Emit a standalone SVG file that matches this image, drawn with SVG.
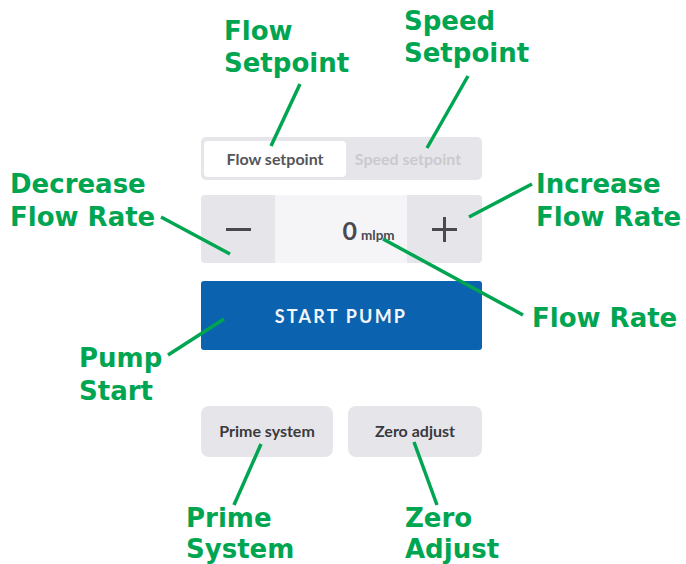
<svg xmlns="http://www.w3.org/2000/svg" width="686" height="564" viewBox="0 0 686 564">
<style>
.lbl{font-family:"DejaVu Sans",Verdana,sans-serif;font-weight:bold;font-size:26px;fill:#00a551}
.ln{stroke:#00a551;stroke-width:3.5;fill:none}
.ui{font-family:Lato,"Open Sans",sans-serif;font-weight:bold}
.gray{fill:#e6e6ea}
</style>
<rect width="686" height="564" fill="#ffffff"/>
<g id="seg">
<rect x="201" y="137" width="281" height="43" rx="5" class="gray"/>
<rect x="204" y="141" width="142" height="36" rx="4" fill="#ffffff"/>
<text x="275" y="165" text-anchor="middle" class="ui" font-size="16" fill="#555559">Flow setpoint</text>
<text x="408" y="165" text-anchor="middle" class="ui" font-size="16" fill="#cacace">Speed setpoint</text>
</g>
<g id="stepper">
<rect x="201" y="195" width="281" height="68" rx="4" class="gray"/>
<rect x="275" y="195" width="132" height="68" fill="#f5f5f8"/>
<rect x="226" y="228" width="25" height="3" fill="#4a4a4e"/>
<rect x="432" y="228" width="25" height="3" fill="#4a4a4e"/>
<rect x="443" y="217" width="3" height="25" fill="#4a4a4e"/>
<text x="357" y="240" text-anchor="end" class="ui" font-size="25" fill="#4a4a4e">0</text>
<text x="361" y="240" class="ui" font-size="13.5" fill="#4a4a4e">mlpm</text>
</g>
<g id="start">
<rect x="201" y="281" width="281" height="69" rx="3" fill="#0b63b0"/>
<text x="341" y="323" text-anchor="middle" class="ui" font-size="18" letter-spacing="2.2" fill="#f4f6fa">START PUMP</text>
</g>
<g id="prime">
<rect x="201" y="406" width="132" height="51" rx="8" class="gray"/>
<text x="267" y="437" text-anchor="middle" class="ui" font-size="16" font-weight="normal" fill="#3a3a3e">Prime system</text>
</g>
<g id="zero">
<rect x="348" y="406" width="134" height="51" rx="8" class="gray"/>
<text x="415" y="437" text-anchor="middle" class="ui" font-size="16" font-weight="normal" fill="#3a3a3e">Zero adjust</text>
</g>
<g id="labels">
<text class="lbl" x="224" y="40">Flow<tspan x="224" y="72">Setpoint</tspan></text>
<text class="lbl" x="404" y="30">Speed<tspan x="404" y="62">Setpoint</tspan></text>
<text class="lbl" x="10" y="193">Decrease<tspan x="10" y="226">Flow Rate</tspan></text>
<text class="lbl" x="536" y="193">Increase<tspan x="536" y="226">Flow Rate</tspan></text>
<text class="lbl" x="532" y="327">Flow Rate</text>
<text class="lbl" x="79" y="367">Pump<tspan x="79" y="400">Start</tspan></text>
<text class="lbl" x="186" y="527">Prime<tspan x="186" y="558">System</tspan></text>
<text class="lbl" x="405" y="527">Zero<tspan x="405" y="558">Adjust</tspan></text>
</g>
<g id="connectors">
<line class="ln" x1="300" y1="84" x2="271" y2="146"/>
<line class="ln" x1="468" y1="76" x2="427" y2="148"/>
<line class="ln" x1="161" y1="217" x2="230" y2="254"/>
<line class="ln" x1="532" y1="184" x2="469" y2="217"/>
<line class="ln" x1="523" y1="315" x2="383" y2="239"/>
<line class="ln" x1="168" y1="355" x2="224" y2="319"/>
<line class="ln" x1="261" y1="444" x2="234" y2="505"/>
<line class="ln" x1="414" y1="442" x2="437" y2="505"/>
</g>
</svg>
